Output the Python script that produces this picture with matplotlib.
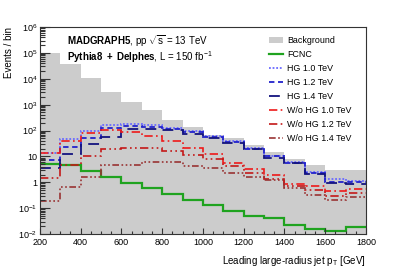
import numpy as np
import matplotlib
matplotlib.use("Agg")
import matplotlib.pyplot as plt
from matplotlib.ticker import MultipleLocator, LogLocator, NullFormatter
from matplotlib.patches import Patch
from matplotlib.lines import Line2D

plt.rcParams['font.family'] = ['Liberation Sans', 'DejaVu Sans']
plt.rcParams['mathtext.fontset'] = 'custom'
plt.rcParams['mathtext.rm'] = 'Liberation Sans'
plt.rcParams['mathtext.it'] = 'Liberation Sans:italic'
plt.rcParams['mathtext.bf'] = 'Liberation Sans:bold'

# bin edges in GeV
edges = [200, 300, 400, 500, 600, 700, 800, 900, 1000, 1100, 1200, 1300, 1400, 1500, 1600, 1700, 1800]

background = [1.0e5, 3.7e4, 1.05e4, 3.2e3, 1.3e3, 600, 260, 135, 70, 52, 28, 15, 7.8, 4.6, 3.1, 3.1]
fcnc = [4.9, 4.6, 2.8, 1.64, 0.96, 0.58, 0.35, 0.2, 0.13, 0.078, 0.05, 0.043, 0.022, 0.015, 0.0135, 0.018]
hg_10 = [14, 46, 96, 165, 175, 160, 130, 96, 60, 38, 22, 10.5, 6.3, 2.6, 1.3, 1.15]
hg_12 = [7.3, 23, 50, 120, 150, 140, 115, 85, 55, 36, 20, 10, 5.8, 2.3, 1.05, 1.0]
hg_14 = [3.5, 12.6, 30, 57, 110, 113, 105, 73, 52, 32, 18.6, 8.5, 5.5, 2.1, 0.97, 0.87]
wo_10 = [13, 39, 83, 105, 90, 63, 39, 22, 12.3, 5.8, 3.2, 2.0, 0.85, 0.73, 0.46, 0.53]
wo_12 = [1.5, 4.6, 10, 18.6, 22, 22, 16, 11, 7.8, 4.4, 2.3, 1.4, 0.75, 0.5, 0.30, 0.4]
wo_14 = [0.19, 0.68, 1.55, 4.6, 4.6, 5.9, 5.9, 4.4, 3.7, 2.3, 1.6, 1.2, 0.6, 0.33, 0.21, 0.28]

labels = ["Background", "FCNC", "HG 1.0 TeV", "HG 1.2 TeV", "HG 1.4 TeV",
          "W/o HG 1.0 TeV", "W/o HG 1.2 TeV", "W/o HG 1.4 TeV"]

fig = plt.figure(figsize=(4.07, 2.76), dpi=100)
ax = fig.add_axes([0.098, 0.152, 0.801, 0.750])

ax.stairs(background, edges, fill=True, baseline=1e-3, color='#cccccc', lw=0)

styles = [
    (fcnc, '#1fa31f', '-', 1.6),
    (hg_10, '#6a6aff', (0, (1, 1)), 1.3),
    (hg_12, '#2222cc', (0, (3, 2)), 1.3),
    (hg_14, '#14147f', (0, (6, 4)), 1.3),
    (wo_10, '#ee1a1a', (0, (5, 2, 1, 2)), 1.2),
    (wo_12, '#c41818', (0, (5, 2, 1, 2, 1, 2)), 1.2),
    (wo_14, '#993333', (0, (4, 1.5, 1, 1.5, 1, 1.5, 1, 1.5)), 1.2),
]
handles = [Patch(facecolor='#cccccc', edgecolor='none')]
for vals, col, ls, lw in styles:
    ax.stairs(vals, edges, baseline=None, color=col, linestyle=ls, lw=lw)
    handles.append(Line2D([], [], color=col, linestyle=ls, lw=lw))

ax.set_yscale('log')
ax.set_xlim(200, 1800)
ax.set_ylim(1e-2, 1e6)

ax.xaxis.set_major_locator(MultipleLocator(200))
ax.xaxis.set_minor_locator(MultipleLocator(50))
ax.yaxis.set_minor_locator(LogLocator(base=10, subs=np.arange(2, 10), numticks=20))
ax.yaxis.set_minor_formatter(NullFormatter())
yt = [1e-2, 1e-1, 1, 10, 1e2, 1e3, 1e4, 1e5, 1e6]
ytl = [r"$10^{-2}$", r"$10^{-1}$", "1", "10", r"$10^{2}$", r"$10^{3}$", r"$10^{4}$", r"$10^{5}$", r"$10^{6}$"]
ax.set_yticks(yt)
ax.set_yticklabels(ytl)

ax.tick_params(axis='both', which='both', direction='in', labelsize=6.5, width=0.8,
               top=False, right=False, colors='#333333', labelcolor='black')
ax.tick_params(axis='y', which='major', length=7, pad=2.0)
ax.tick_params(axis='y', which='minor', length=3.5)
ax.tick_params(axis='x', which='major', length=4.5, pad=3.2)
ax.tick_params(axis='x', which='minor', length=2.2)
for s in ax.spines.values():
    s.set_linewidth(0.8)
    s.set_color('#333333')

ax.set_ylabel("Events / bin", fontsize=7, loc='top', labelpad=3)
ax.set_xlabel(r"Leading large-radius jet p$_{\rm T}$ [GeV]", fontsize=7, loc='right', labelpad=5)

ax.text(0.083, 0.932, r"$\bf{MADGRAPH5}$, pp $\sqrt{\rm s}$ = 13 TeV", transform=ax.transAxes,
        fontsize=7, va='center', ha='left')
ax.text(0.083, 0.855, r"$\bf{Pythia8\ +\ Delphes}$, L = 150 fb$^{-1}$", transform=ax.transAxes,
        fontsize=7, va='center', ha='left')

ax.legend(handles, labels, loc='upper left', bbox_to_anchor=(0.692, 0.972), frameon=False,
          fontsize=6.4, handlelength=1.6, handletextpad=0.4, labelspacing=0.56,
          borderaxespad=0.0)

fig.savefig("out.png", dpi=100)
